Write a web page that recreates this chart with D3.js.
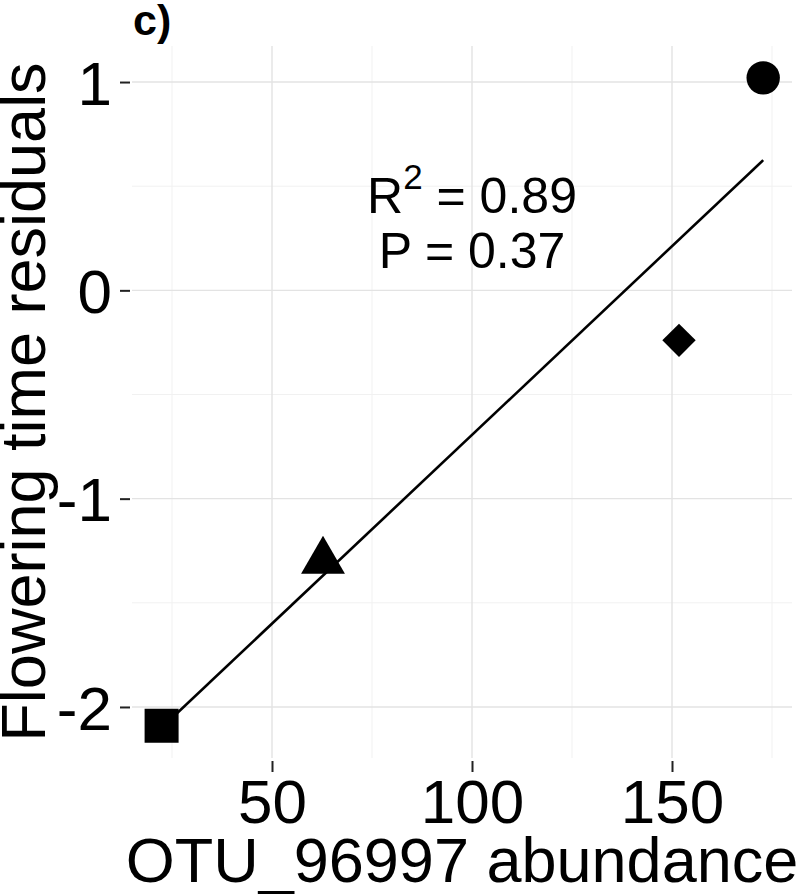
<html>
  <script src="https://d3js.org/d3.v7.min.js"></script>
  <style>
    body,
    html {
      margin: 0;
      padding: 0;
      background: white;
    }
    text {
      font-family: "Liberation Sans", Arial, sans-serif;
      fill: black;
    }
  </style>
  <body>
    <svg id="chart" width="800" height="894"></svg>
    <script>
      // values
      const abundance = [22.4, 62.75, 151.75, 172.8];
      const residuals = [-2.09, -1.3, -0.24, 1.02];
      const shapes = ["square", "triangle", "diamond", "circle"];

      // fitted line end points
      const fitX = [22.4, 172.8];
      const fitY = [-2.1, 0.625];

      const xTicks = [50, 100, 150];
      const xMinor = [25, 75, 125, 175];
      const yTicks = [-2, -1, 0, 1];
      const yMinor = [-1.5, -0.5, 0.5];

      const panel = "c)";
      const xTitle = "OTU_96997 abundance";
      const yTitle = "Flowering time residuals";
      const r2Text = "0.89";
      const pText = "0.37";

      const svg = d3.select("#chart");
      const pLeft = 132,
        pRight = 792,
        pTop = 46,
        pBottom = 758;

      const x = d3.scaleLinear().domain([15, 180]).range([pLeft, pRight]);
      const y = d3.scaleLinear().domain([-2.245, 1.173]).range([pBottom, pTop]);

      // grid
      const grid = svg.append("g");
      const vLines = (vals, color, w) =>
        grid
          .append("g")
          .selectAll("line")
          .data(vals)
          .join("line")
          .attr("x1", (d) => x(d))
          .attr("x2", (d) => x(d))
          .attr("y1", pTop)
          .attr("y2", pBottom)
          .attr("stroke", color)
          .attr("stroke-width", w);
      const hLines = (vals, color, w) =>
        grid
          .append("g")
          .selectAll("line")
          .data(vals)
          .join("line")
          .attr("y1", (d) => y(d))
          .attr("y2", (d) => y(d))
          .attr("x1", pLeft)
          .attr("x2", pRight)
          .attr("stroke", color)
          .attr("stroke-width", w);
      vLines(xMinor, "#f1f1f1", 1);
      hLines(yMinor, "#f1f1f1", 1);
      vLines(xTicks, "#e3e3e3", 1.4);
      hLines(yTicks, "#e3e3e3", 1.4);

      // axes
      const xAxis = svg
        .append("g")
        .attr("transform", `translate(0,${pBottom + 3})`)
        .call(d3.axisBottom(x).tickValues(xTicks).tickSize(11));
      xAxis.select(".domain").remove();
      xAxis.selectAll("line").attr("stroke", "#222").attr("stroke-width", 2);
      xAxis
        .selectAll("text")
        .attr("font-size", 62)
        .attr("fill", "black")
        .attr("dy", "0.71em")
        .attr("y", 18);

      const yAxis = svg
        .append("g")
        .attr("transform", `translate(${pLeft - 2},0)`)
        .call(
          d3
            .axisLeft(y)
            .tickValues(yTicks)
            .tickSize(10)
            .tickFormat((d) => (d < 0 ? "-" + Math.abs(d) : d))
        );
      yAxis.select(".domain").remove();
      yAxis.selectAll("line").attr("stroke", "#222").attr("stroke-width", 2);
      yAxis
        .selectAll("text")
        .attr("font-size", 62)
        .attr("fill", "black")
        .attr("x", -18)
        .attr("dy", "0.36em");

      // fitted line
      svg
        .append("line")
        .attr("x1", x(fitX[0]))
        .attr("y1", y(fitY[0]))
        .attr("x2", x(fitX[1]))
        .attr("y2", y(fitY[1]))
        .attr("stroke", "black")
        .attr("stroke-width", 2.6);

      // points
      const symbolOf = {
        circle: { type: d3.symbolCircle, size: 876, rot: 0 },
        square: { type: d3.symbolSquare, size: 1156, rot: 0 },
        triangle: { type: d3.symbolTriangle, size: 834, rot: 0 },
        diamond: { type: d3.symbolSquare, size: 557, rot: 45 },
      };
      svg
        .append("g")
        .selectAll("path")
        .data(abundance)
        .join("path")
        .attr("d", (d, i) =>
          d3.symbol().type(symbolOf[shapes[i]].type).size(symbolOf[shapes[i]].size)()
        )
        .attr(
          "transform",
          (d, i) =>
            `translate(${x(d)},${y(residuals[i])}) rotate(${symbolOf[shapes[i]].rot})`
        )
        .attr("fill", "black");

      // annotation
      const ann = svg
        .append("text")
        .attr("x", x(100))
        .attr("y", 213)
        .attr("text-anchor", "middle")
        .attr("font-size", 50);
      ann.append("tspan").text("R");
      ann.append("tspan").attr("font-size", 35).attr("dy", -24).text("2");
      ann.append("tspan").attr("dy", 24).text(" = " + r2Text);

      svg
        .append("text")
        .attr("x", x(100))
        .attr("y", 268)
        .attr("text-anchor", "middle")
        .attr("font-size", 50)
        .text("P = " + pText);

      // titles
      svg
        .append("text")
        .attr("x", 133)
        .attr("y", 35)
        .attr("font-size", 43)
        .attr("font-weight", "bold")
        .text(panel);

      svg
        .append("text")
        .attr("x", (pLeft + pRight) / 2)
        .attr("y", 882)
        .attr("text-anchor", "middle")
        .attr("font-size", 63)
        .text(xTitle);

      svg
        .append("text")
        .attr("transform", `translate(45,${(pTop + pBottom) / 2}) rotate(-90)`)
        .attr("text-anchor", "middle")
        .attr("font-size", 63)
        .text(yTitle);
    </script>
  </body>
</html>
